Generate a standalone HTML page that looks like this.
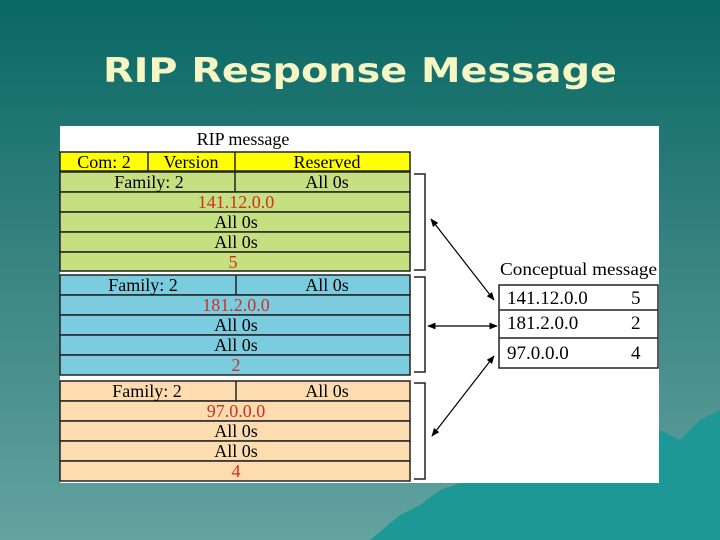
<!DOCTYPE html>
<html><head><meta charset="utf-8"><style>
html,body{margin:0;padding:0;width:720px;height:540px;overflow:hidden}
</style></head><body>
<svg width="720" height="540" xmlns="http://www.w3.org/2000/svg" font-family="Liberation Serif, serif">
<defs>
<linearGradient id="bg" x1="0" y1="0" x2="0" y2="1">
<stop offset="0" stop-color="#086864"/><stop offset="0.5" stop-color="#3a8582"/><stop offset="1" stop-color="#63a3a0"/>
</linearGradient>
<marker id="ah" viewBox="0 0 10 10" refX="9" refY="5" markerWidth="7" markerHeight="7" orient="auto-start-reverse"><path d="M0,1 L10,5 L0,9 z" fill="#000"/></marker>
</defs>
<rect width="720" height="540" fill="url(#bg)"/>
<path d="M370,540 L400,515 L420,505 L440,490 L470,480 L500,470 L520,455 L540,460 L560,450 L575,445 L590,455 L610,430 L640,420 L680,440 L700,420 L720,410 L720,540 Z" fill="#1d9896"/>
<text x="360" y="82" text-anchor="middle" font-family="DejaVu Sans, sans-serif" font-weight="bold" font-size="34" fill="#f6f6c4" textLength="514" lengthAdjust="spacingAndGlyphs">RIP Response Message</text>
<rect x="60" y="126" width="599" height="357" fill="#fff"/>
<text x="243" y="145" text-anchor="middle" font-size="18">RIP message</text>
<g stroke="#222" stroke-width="1.5" font-size="17">
<rect x="60" y="152" width="350" height="19" fill="#ffff00"/>
<line x1="148" y1="152" x2="148" y2="171"/><line x1="235" y1="152" x2="235" y2="171"/>
<rect x="60" y="172" width="350" height="20" fill="#c4e080"/>
<rect x="60" y="192" width="350" height="20" fill="#c4e080"/>
<rect x="60" y="212" width="350" height="20" fill="#c4e080"/>
<rect x="60" y="232" width="350" height="20" fill="#c4e080"/>
<rect x="60" y="252" width="350" height="19" fill="#c4e080"/>
<line x1="235" y1="172" x2="235" y2="192"/>
<rect x="60" y="275" width="350" height="20" fill="#7ccce0"/>
<rect x="60" y="295" width="350" height="20" fill="#7ccce0"/>
<rect x="60" y="315" width="350" height="20" fill="#7ccce0"/>
<rect x="60" y="335" width="350" height="20" fill="#7ccce0"/>
<rect x="60" y="355" width="350" height="20" fill="#7ccce0"/>
<line x1="236" y1="275" x2="236" y2="295"/>
<rect x="60" y="381" width="350" height="20" fill="#fddcb0"/>
<rect x="60" y="401" width="350" height="20" fill="#fddcb0"/>
<rect x="60" y="421" width="350" height="20" fill="#fddcb0"/>
<rect x="60" y="441" width="350" height="20" fill="#fddcb0"/>
<rect x="60" y="461" width="350" height="20" fill="#fddcb0"/>
<line x1="236" y1="381" x2="236" y2="401"/>
</g>
<g font-size="18" text-anchor="middle" fill="#000">
<text x="104" y="168">Com: 2</text><text x="191" y="168">Version</text><text x="327" y="168">Reserved</text>
<text x="149" y="188">Family: 2</text><text x="327" y="188">All 0s</text>
<text x="236" y="208" fill="#d03020">141.12.0.0</text>
<text x="236" y="228">All 0s</text><text x="236" y="248">All 0s</text>
<text x="233" y="268" fill="#d03020">5</text>
<text x="143" y="291">Family: 2</text><text x="327" y="291">All 0s</text>
<text x="236" y="311" fill="#d03020">181.2.0.0</text>
<text x="236" y="331">All 0s</text><text x="236" y="351">All 0s</text>
<text x="236" y="371" fill="#d03020">2</text>
<text x="147" y="397">Family: 2</text><text x="327" y="397">All 0s</text>
<text x="236" y="417" fill="#d03020">97.0.0.0</text>
<text x="236" y="437">All 0s</text><text x="236" y="457">All 0s</text>
<text x="236" y="477" fill="#d03020">4</text>
</g>
<g stroke="#222" stroke-width="1.5" fill="none">
<path d="M414,174 H425 V270 H414"/>
<path d="M414,277 H425 V372 H414"/>
<path d="M414,383 H425 V479 H414"/>
</g>
<g stroke="#000" stroke-width="1.2" marker-start="url(#ah)" marker-end="url(#ah)">
<line x1="431" y1="219" x2="494" y2="300"/>
<line x1="428" y1="326" x2="497" y2="326"/>
<line x1="432" y1="436" x2="494" y2="356"/>
</g>
<text x="500" y="275" font-size="18" textLength="157" lengthAdjust="spacingAndGlyphs">Conceptual  message</text>
<g stroke="#222" stroke-width="1.5" fill="#fff">
<rect x="499" y="285" width="159" height="83"/>
<line x1="499" y1="310" x2="658" y2="310"/>
<line x1="499" y1="338" x2="658" y2="338"/>
</g>
<g font-size="19">
<text x="507" y="304">141.12.0.0</text><text x="631" y="304">5</text>
<text x="507" y="329">181.2.0.0</text><text x="631" y="329">2</text>
<text x="507" y="359">97.0.0.0</text><text x="631" y="359">4</text>
</g>
</svg>
</body></html>
